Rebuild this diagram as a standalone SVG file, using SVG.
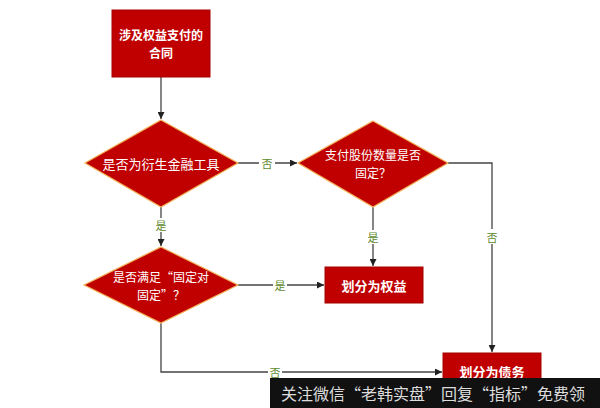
<svg xmlns="http://www.w3.org/2000/svg" width="600" height="408" viewBox="0 0 600 408">
<defs>
<marker id="arr" viewBox="0 0 10 10" refX="10" refY="5" markerWidth="7" markerHeight="7" orient="auto" markerUnits="userSpaceOnUse">
<path d="M0,0 L10,5 L0,10 z" fill="#222"/>
</marker>
<style>
.box{fill:#C00000;stroke:#A50000;stroke-width:1}
.dia{fill:#C00000;stroke:#F2B25C;stroke-width:1.2}
.t{font-family:"Noto Sans CJK SC","Liberation Sans",sans-serif;font-size:13px;fill:#fff;text-anchor:middle;dominant-baseline:central}
.s{font-size:12px}
.b{font-weight:bold}
.ln{fill:none;stroke:#444;stroke-width:1.3}
.lbl{font-family:"Noto Sans CJK SC","Liberation Sans",sans-serif;font-size:11px;fill:#5E8A2E;text-anchor:middle;dominant-baseline:central}
</style>
</defs>
<rect width="600" height="408" fill="#fff"/>
<g id="connectors">
<path class="ln" d="M161,77 V119" marker-end="url(#arr)"/>
<path class="ln" d="M238,163 H297" marker-end="url(#arr)"/>
<rect x="259" y="156" width="16" height="14" fill="#fff"/>
<text class="lbl" x="267" y="163">否</text>
<path class="ln" d="M161,207 V246" marker-end="url(#arr)"/>
<rect x="154" y="218" width="14" height="14" fill="#fff"/>
<text class="lbl" x="161" y="225">是</text>
<path class="ln" d="M373,207 V266" marker-end="url(#arr)"/>
<rect x="366" y="230" width="14" height="14" fill="#fff"/>
<text class="lbl" x="373" y="237">是</text>
<path class="ln" d="M448,163 H492 V352" marker-end="url(#arr)"/>
<rect x="485" y="229" width="14" height="15" fill="#fff"/>
<text class="lbl" x="492" y="237">否</text>
<path class="ln" d="M238,285 H324" marker-end="url(#arr)"/>
<rect x="273" y="278" width="14" height="14" fill="#fff"/>
<text class="lbl" x="280" y="285">是</text>
<path class="ln" d="M161,323 V372 H442" marker-end="url(#arr)"/>
<rect x="268" y="365" width="14" height="14" fill="#fff"/>
<text class="lbl" x="275" y="372">否</text>
</g>
<g id="n1">
<rect class="box" x="112" y="10" width="98" height="67"/>
<text class="t s b" x="161" y="34">涉及权益支付的</text>
<text class="t s b" x="161" y="52">合同</text>
</g>
<g id="n2">
<polygon class="dia" points="161,120 238,163 161,207 85,163"/>
<text class="t" x="161" y="163">是否为衍生金融工具</text>
</g>
<g id="n3">
<polygon class="dia" points="373,121 448,163 373,207 298,163"/>
<text class="t s" x="373" y="154">支付股份数量是否</text>
<text class="t s" x="373" y="172">固定？</text>
</g>
<g id="n4">
<polygon class="dia" points="161,247 238,285 161,323 84,285"/>
<text class="t s" x="161" y="276">是否满足“固定对</text>
<text class="t s" x="161" y="294">固定”？</text>
</g>
<g id="n5">
<rect class="box" x="325" y="267" width="98" height="36"/>
<text class="t b" x="374" y="285">划分为权益</text>
</g>
<g id="n6">
<rect class="box" x="443" y="353" width="98" height="36"/>
<text class="t b" x="492" y="371">划分为债务</text>
</g>
<g id="watermark">
<rect x="270" y="378" width="330" height="30" fill="#111"/>
<text x="433" y="393" font-family="'Noto Sans CJK SC',sans-serif" font-size="16" fill="#ddd" text-anchor="middle" dominant-baseline="central">关注微信“老韩实盘”回复“指标”免费领</text>
</g>
</svg>
